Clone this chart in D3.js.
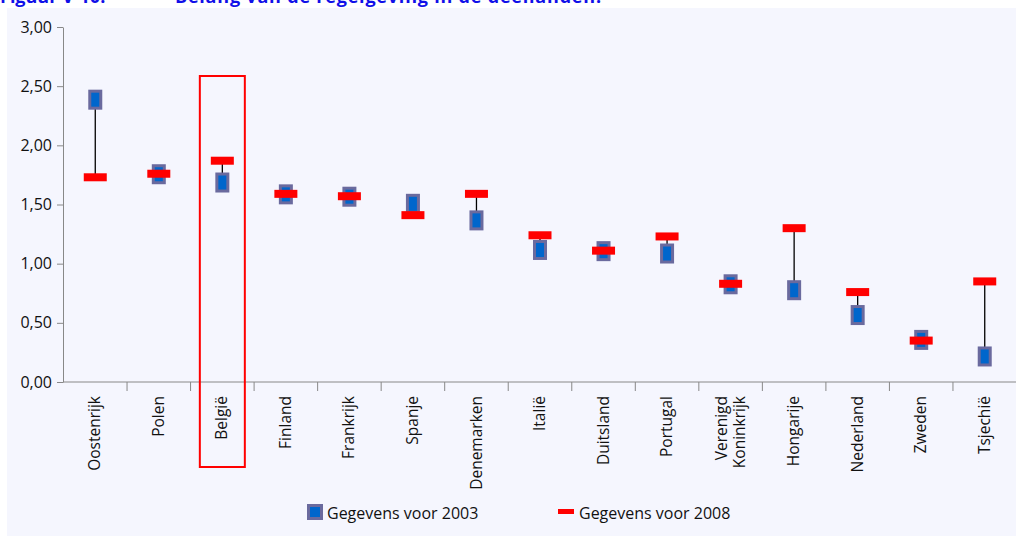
<!DOCTYPE html>
<html>
<head>
<meta charset="utf-8">
<script src="https://cdn.jsdelivr.net/npm/d3@7"></script>
<style>
  body { margin: 0; background: #ffffff; }
  svg { display: block; font-family: "Open Sans", sans-serif; }
</style>
</head>
<body>
<div id="chart"></div>
<script>
// data
var countries = ["Oostenrijk", "Polen", "België", "Finland", "Frankrijk", "Spanje", "Denemarken",
  "Italië", "Duitsland", "Portugal", "Verenigd Koninkrijk", "Hongarije", "Nederland", "Zweden", "Tsjechië"];
var values2003 = [2.39, 1.76, 1.69, 1.59, 1.57, 1.51, 1.37, 1.12, 1.11, 1.09, 0.83, 0.78, 0.57, 0.36, 0.22];
var values2008 = [1.73, 1.76, 1.87, 1.59, 1.57, 1.41, 1.59, 1.24, 1.11, 1.23, 0.83, 1.30, 0.76, 0.35, 0.85];
var yTicks = [0, 0.5, 1, 1.5, 2, 2.5, 3];
var highlighted = "België";
var legendLabels = ["Gegevens voor 2003", "Gegevens voor 2008"];

var svg_width = 1016;
var svg_height = 536;

var svg = d3.select("#chart").append("svg")
  .attr("width", svg_width)
  .attr("height", svg_height);

// panel background
svg.append("rect")
  .attr("x", 7).attr("y", 8)
  .attr("width", svg_width - 7).attr("height", svg_height - 8)
  .attr("fill", "#f5f6fe");

// title, mostly cut off at the top (as in the source)
svg.append("text")
  .attr("x", 0).attr("y", 3)
  .attr("font-size", 18).attr("font-weight", "bold")
  .attr("fill", "#1010e8")
  .text("Figuur V-10:");
svg.append("text")
  .attr("x", 175).attr("y", 3)
  .attr("font-size", 18).attr("font-weight", "bold")
  .attr("letter-spacing", 0.8)
  .attr("fill", "#1010e8")
  .text("Belang van de regelgeving in de deellanden.");

var data = countries.map(function(c, i) {
  return { name: c, v2003: values2003[i], v2008: values2008[i] };
});

var x = d3.scaleBand().domain(countries).range([63, 1016]).padding(0);
var y = d3.scaleLinear().domain([0, 3]).range([382, 27]);

// y axis
var yAxis = svg.append("g")
  .attr("transform", "translate(63,0)")
  .call(d3.axisLeft(y).tickValues(yTicks).tickSize(6).tickSizeOuter(0)
    .tickFormat(function(d) { return d3.format(".2f")(d).replace(".", ","); }));
yAxis.select(".domain").attr("stroke", "#888");
yAxis.selectAll(".tick line").attr("stroke", "#888");
yAxis.selectAll(".tick text")
  .attr("font-family", "Open Sans").attr("font-size", 16)
  .attr("fill", "#111").attr("x", -11);

// x axis line and ticks between categories
svg.append("line")
  .attr("x1", 63).attr("x2", 1016)
  .attr("y1", y(0)).attr("y2", y(0))
  .attr("stroke", "#888");
svg.selectAll(".xtick").data(countries.slice(1)).enter()
  .append("line")
  .attr("class", "xtick")
  .attr("x1", d => x(d) + 0.5).attr("x2", d => x(d) + 0.5)
  .attr("y1", y(0)).attr("y2", y(0) + 9)
  .attr("stroke", "#888");

// category labels
var labels = svg.selectAll(".xlabel").data(countries).enter()
  .append("g")
  .attr("class", "xlabel")
  .attr("transform", d => `translate(${x(d) + x.bandwidth() / 2}, 396) rotate(-90)`);
labels.each(function(d) {
  var parts = d === "Verenigd Koninkrijk" ? ["Verenigd", "Koninkrijk"] : [d];
  var g = d3.select(this);
  parts.forEach(function(p, i) {
    g.append("text")
      .attr("text-anchor", "end")
      .attr("y", parts.length > 1 ? (i === 0 ? -9 : 9) : 0)
      .attr("dy", "0.36em")
      .attr("font-size", 15.5)
      .attr("fill", "#111")
      .text(p);
  });
});

// connecting lines
svg.selectAll(".hl").data(data).enter()
  .append("line")
  .attr("x1", d => x(d.name) + x.bandwidth() / 2 + 0.5)
  .attr("x2", d => x(d.name) + x.bandwidth() / 2 + 0.5)
  .attr("y1", d => y(d.v2003))
  .attr("y2", d => y(d.v2008))
  .attr("stroke", "#000").attr("stroke-width", 1.3);

// 2003 markers
svg.selectAll(".m2003").data(data).enter()
  .append("rect")
  .attr("x", d => x(d.name) + x.bandwidth() / 2 - 5)
  .attr("y", d => y(d.v2003) - 8)
  .attr("width", 11).attr("height", 17)
  .attr("fill", "#0066cc")
  .attr("stroke", "#6a6a9e").attr("stroke-width", 3);

// 2008 markers
svg.selectAll(".m2008").data(data).enter()
  .append("rect")
  .attr("x", d => x(d.name) + x.bandwidth() / 2 - 11)
  .attr("y", d => y(d.v2008) - 4)
  .attr("width", 23).attr("height", 8)
  .attr("fill", "#ff0000");

// highlight box
svg.append("rect")
  .attr("x", x(highlighted) + x.bandwidth() / 2 - 22)
  .attr("y", 76)
  .attr("width", 45).attr("height", 391)
  .attr("fill", "none")
  .attr("stroke", "#ff0000").attr("stroke-width", 2);

// legend
svg.append("rect")
  .attr("x", 308.5).attr("y", 505.5)
  .attr("width", 13).attr("height", 13)
  .attr("fill", "#0066cc")
  .attr("stroke", "#6a6a9e").attr("stroke-width", 3);
svg.append("text")
  .attr("x", 327).attr("y", 519)
  .attr("font-size", 16).attr("fill", "#111")
  .text(legendLabels[0]);
svg.append("rect")
  .attr("x", 558).attr("y", 509)
  .attr("width", 16).attr("height", 5)
  .attr("fill", "#ff0000");
svg.append("text")
  .attr("x", 579).attr("y", 519)
  .attr("font-size", 16).attr("fill", "#111")
  .text(legendLabels[1]);
</script>
</body>
</html>
